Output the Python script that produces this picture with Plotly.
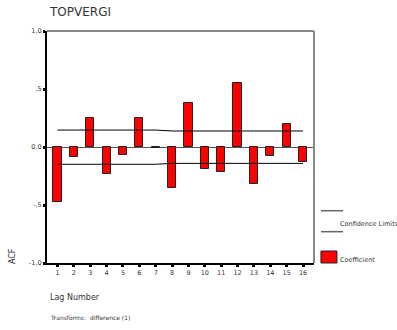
import plotly.graph_objects as go

lags = list(range(1, 17))
acf = [-0.475, -0.088, 0.247, -0.235, -0.066, 0.247, -0.012, -0.356,
       0.377, -0.190, -0.218, 0.554, -0.316, -0.080, 0.198, -0.127]
upper = [0.146, 0.146, 0.146, 0.146, 0.146, 0.146, 0.146, 0.138,
         0.138, 0.138, 0.138, 0.138, 0.138, 0.138, 0.138, 0.138]
lower = [-0.149, -0.149, -0.149, -0.149, -0.149, -0.149, -0.149, -0.141,
         -0.141, -0.141, -0.141, -0.141, -0.141, -0.141, -0.141, -0.141]
ytick_vals = [-1.0, -0.5, 0.0, 0.5, 1.0]
ytick_text = ["-1,0", "-,5", "0,0", ",5", "1,0"]

FONT = "DejaVu Sans"

fig = go.Figure()
for ser in (upper, lower):
    fig.add_trace(go.Scatter(x=lags, y=ser, mode="lines",
                             line=dict(color="black", width=1),
                             showlegend=False, hoverinfo="skip"))
fig.add_trace(go.Bar(x=lags, y=acf, width=0.5,
                     marker=dict(color="#ff0000", line=dict(color="#222", width=1)),
                     showlegend=False))

fig.update_layout(
    width=397, height=330,
    margin=dict(l=47, r=83, t=31, b=67),
    plot_bgcolor="white", paper_bgcolor="white",
    font=dict(family=FONT, color="#333"),
    xaxis=dict(range=[0.36, 16.67], tickvals=lags, ticktext=[str(v) for v in lags],
               showgrid=False, zeroline=False, showline=True, linecolor="black", linewidth=2,
               ticks="outside", ticklen=2, tickwidth=3, tickcolor="black",
               tickfont=dict(size=6.5, family=FONT, color="#333")),
    yaxis=dict(range=[-1, 1], tickvals=ytick_vals, ticktext=ytick_text,
               showgrid=False, zeroline=True, zerolinecolor="#555", zerolinewidth=1,
               showline=True, linecolor="black", linewidth=2,
               ticks="outside", ticklen=2, tickwidth=3, tickcolor="black",
               tickfont=dict(size=6.5, family=FONT, color="#333")),
    bargap=0,
)

# frame top/right (gray)
fig.add_shape(type="line", xref="paper", yref="paper", x0=0, x1=1, y0=1, y1=1,
              line=dict(color="#888", width=2))
fig.add_shape(type="line", xref="paper", yref="paper", x0=1, x1=1, y0=0, y1=1,
              line=dict(color="#888", width=2))

# legend
fig.add_shape(type="line", xref="paper", yref="paper", x0=1.026, x1=1.109, y0=0.2254, y1=0.2254,
              line=dict(color="#666", width=1.5))
fig.add_shape(type="line", xref="paper", yref="paper", x0=1.026, x1=1.109, y0=0.135, y1=0.135,
              line=dict(color="#666", width=1.5))
fig.add_shape(type="rect", xref="paper", yref="paper", x0=1.026, x1=1.086, y0=0.0, y1=0.0517,
              fillcolor="#ff0000", line=dict(color="#222", width=1))
fig.add_annotation(text="Confidence Limits", xref="paper", yref="paper", x=1.090, y=0.168,
                   xanchor="left", yanchor="middle", showarrow=False,
                   font=dict(size=6.5, family=FONT, color="#333"))
fig.add_annotation(text="Coefficient", xref="paper", yref="paper", x=1.090, y=0.0116,
                   xanchor="left", yanchor="middle", showarrow=False,
                   font=dict(size=6.5, family=FONT, color="#333"))

# titles
fig.add_annotation(text="TOPVERGI", xref="paper", yref="paper", x=0.0, y=1.082,
                   xanchor="left", yanchor="middle", showarrow=False,
                   font=dict(size=12, family=FONT, color="#333"))
fig.add_annotation(text="ACF", xref="paper", yref="paper", x=-0.131, y=0.03,
                   xanchor="center", yanchor="middle", showarrow=False, textangle=-90,
                   font=dict(size=8, family=FONT, color="#333"))
fig.add_annotation(text="Lag Number", xref="paper", yref="paper", x=0.003, y=-0.147,
                   xanchor="left", yanchor="middle", showarrow=False,
                   font=dict(size=8, family=FONT, color="#333"))
fig.add_annotation(text="Transforms:  difference (1)", xref="paper", yref="paper", x=0.003, y=-0.233,
                   xanchor="left", yanchor="middle", showarrow=False,
                   font=dict(size=6, family=FONT, color="#333"))

fig.write_html("out.html")
